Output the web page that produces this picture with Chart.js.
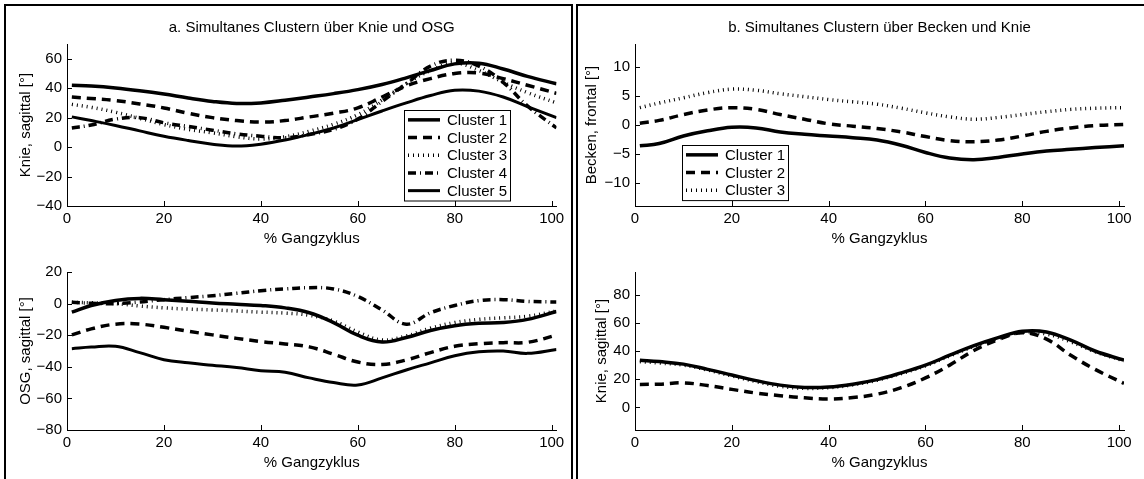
<!DOCTYPE html>
<html lang="de">
<head>
<meta charset="UTF-8">
<title>Simultanes Clustern</title>
<script src="https://cdn.jsdelivr.net/npm/chart.js"></script>
<style>
  body { margin: 0; background: #fff; width: 1144px; height: 479px; overflow: hidden; position: relative; }
  .frame { position: absolute; border: 2px solid #000; box-sizing: border-box; }
  canvas { position: absolute; }
</style>
</head>
<body>
<div class="frame" style="left:4px; top:4px; width:569px; height:500px;"></div>
<div class="frame" style="left:576px; top:4px; width:600px; height:500px;"></div>
<canvas id="kneeA" width="561" height="248" style="left:10px; top:0px;"></canvas>
<canvas id="osgA" width="561" height="214" style="left:10px; top:258px;"></canvas>
<canvas id="pelvisB" width="559" height="248" style="left:580px; top:0px;"></canvas>
<canvas id="kneeB" width="559" height="214" style="left:580px; top:258px;"></canvas>
<script>
// % Gangzyklus
const gz = [1, 5, 10, 15, 20, 25, 30, 35, 40, 45, 50, 55, 60, 65, 70, 75, 80, 85, 90, 95, 101];
const xTicks = [0, 20, 40, 60, 80, 100];

// a. Knie, sagittal
const kneeA1 = [42, 41.5, 40.2, 38.3, 36, 33.3, 31, 29.6, 30, 31.8, 34, 36.3, 39, 42.5, 47, 52, 56.5, 57, 53, 48, 43];
const kneeA2 = [34, 33, 31.6, 29.3, 26.6, 23, 20, 18, 17, 18, 20.5, 23, 26.6, 34, 41.5, 46.5, 50, 50.3, 46.5, 42, 36.5];
const kneeA3 = [29, 27, 23.7, 19.5, 15.3, 12, 9.7, 7, 5.5, 7, 10.8, 15.5, 22, 32, 43, 52, 57, 52, 44, 37, 30];
const kneeA4 = [13, 15, 19, 20, 16.5, 14, 11.5, 9, 7.4, 6.3, 8.6, 12, 19, 31, 43, 55, 59, 55, 44, 28, 13];
const kneeA5 = [20.5, 18, 14.7, 11, 7.4, 4.5, 2, 0.7, 2, 4.8, 8.6, 13, 18.7, 24.5, 30, 35, 38.6, 38, 34, 27.5, 20];
const kneeATicks = [-40, -20, 0, 20, 40, 60];

// a. OSG, sagittal
const osgA1 = [-5.4, -1.2, 2, 3.3, 2.5, 1.5, 0.4, -0.4, -1.2, -2.7, -5.8, -12, -20, -24.3, -21.5, -17, -14, -12.5, -12, -10, -5];
const osgA2 = [-19.8, -16, -13, -13, -15, -17.5, -19.8, -22, -24, -25.5, -27.4, -32, -37, -38.5, -35.7, -31, -27, -25.4, -24.7, -24.5, -20];
const osgA3 = [0.8, 0.5, 0, -1.5, -2.7, -3.5, -4, -4.7, -5.4, -6, -7.4, -11, -18, -23, -20.5, -15.5, -12, -10, -9, -8, -4.7];
const osgA4 = [0.8, 0.2, 0, 1, 2.5, 3.8, 5, 6.5, 8.2, 9.3, 10.1, 9.3, 4.5, -4, -13, -5.8, -1.2, 1.9, 2.5, 1.4, 1];
const osgA5 = [-28.5, -27.5, -27, -31, -35.5, -37.5, -39, -40.5, -42.5, -43.5, -47, -50, -51.5, -47, -42, -37.5, -33, -30.5, -30, -31.5, -29];
const osgATicks = [-80, -60, -40, -20, 0, 20];

// b. Becken, frontal
const pelvisB1 = [-3.6, -3.2, -1.9, -1, -0.4, -0.5, -1.2, -1.6, -1.9, -2.2, -2.6, -3.5, -4.75, -5.7, -6, -5.6, -5, -4.5, -4.2, -3.9, -3.6];
const pelvisB2 = [0.3, 0.8, 1.8, 2.6, 3, 2.7, 1.8, 1, 0.2, -0.2, -0.6, -1.2, -2, -2.7, -2.9, -2.6, -1.9, -1.1, -0.5, -0.1, 0.1];
const pelvisB3 = [3, 3.8, 4.7, 5.6, 6.2, 6, 5.4, 4.9, 4.4, 4, 3.6, 2.9, 2.1, 1.4, 1, 1.3, 1.8, 2.3, 2.7, 2.9, 3];
const pelvisBTicks = [-10, -5, 0, 5, 10];

// b. Knie, sagittal
const kneeB1 = [33.5, 32.5, 30.7, 27, 23, 19, 15.8, 14.2, 14.5, 16.5, 19.7, 24.5, 30, 37, 43.8, 49.5, 54, 53.5, 47.7, 40, 33.5];
const kneeB2 = [16.3, 16.5, 17.4, 15.5, 12.8, 10.2, 8.3, 6.8, 6, 7, 9.4, 14, 20.9, 30, 40.4, 48, 53, 48.4, 37, 27, 17];
const kneeB3 = [32.5, 31.5, 30, 26.5, 22.3, 18.3, 15, 13.5, 14, 16, 19.3, 24, 29.5, 36.5, 43.3, 49, 53.3, 52, 46.5, 39.5, 33];
const kneeBTicks = [0, 20, 40, 60, 80];

const lineStyles = [
    { width: 3.5, dash: [] },
    { width: 3.5, dash: [9, 6] },
    { width: 3.5, dash: [1, 4] },
    { width: 3.5, dash: [8, 4, 1, 4] },
    { width: 3, dash: [] }
];

Chart.defaults.font.family = '"Liberation Sans", Arial, sans-serif';
Chart.defaults.font.size = 15;
Chart.defaults.color = '#000';

// MATLAB style tick marks pointing into the axes
const innerTicks = {
    id: 'innerTicks',
    afterDraw(chart) {
        const { ctx, chartArea: ca, scales: { x, y } } = chart;
        ctx.save();
        ctx.strokeStyle = '#000';
        ctx.lineWidth = 1;
        ctx.setLineDash([]);
        ctx.beginPath();
        x.ticks.forEach(t => {
            const px = Math.round(x.getPixelForValue(t.value)) + 0.5;
            ctx.moveTo(px, ca.bottom);
            ctx.lineTo(px, ca.bottom - 5);
        });
        y.ticks.forEach(t => {
            const py = Math.round(y.getPixelForValue(t.value)) + 0.5;
            ctx.moveTo(ca.left, py);
            ctx.lineTo(ca.left + 5, py);
        });
        ctx.stroke();
        ctx.restore();
    }
};

// boxed legend inside the plot area
const boxLegend = {
    id: 'boxLegend',
    afterDatasetsDraw(chart, args, opts) {
        if (!opts.show) return;
        const ctx = chart.ctx, ca = chart.chartArea;
        const sets = chart.data.datasets;
        const rowH = 17.7, w = 106, h = sets.length * rowH + 2;
        const left = opts.anchor === 'right' ? ca.right - opts.dx - w : ca.left + opts.dx;
        const top = Math.round(ca.bottom - opts.dy - h);
        ctx.save();
        ctx.fillStyle = '#fff';
        ctx.fillRect(left, top, w, h);
        ctx.strokeStyle = '#000';
        ctx.lineWidth = 1;
        ctx.setLineDash([]);
        ctx.strokeRect(Math.round(left) + 0.5, top + 0.5, w, h);
        ctx.font = '15px "Liberation Sans", Arial, sans-serif';
        ctx.textBaseline = 'middle';
        ctx.fillStyle = '#000';
        sets.forEach((ds, i) => {
            const yy = top + 1 + rowH * (i + 0.5);
            ctx.beginPath();
            ctx.setLineDash(ds.borderDash);
            ctx.lineWidth = ds.borderWidth;
            ctx.moveTo(left + 4, yy);
            ctx.lineTo(left + 36, yy);
            ctx.stroke();
            ctx.setLineDash([]);
            ctx.fillText(ds.label, left + 43, yy + 1);
        });
        ctx.restore();
    }
};

function clusterSets(series) {
    return series.map((d, i) => ({
        label: 'Cluster ' + (i + 1),
        data: d.map((v, k) => ({ x: gz[k], y: v })),
        borderColor: '#000',
        borderWidth: lineStyles[i].width,
        borderDash: lineStyles[i].dash,
        borderCapStyle: 'butt',
        pointRadius: 0,
        tension: 0.4,
        fill: false
    }));
}

function makeChart(id, p) {
    new Chart(document.getElementById(id), {
        type: 'line',
        data: { datasets: clusterSets(p.series) },
        options: {
            responsive: false,
            animation: false,
            layout: { padding: { left: 0, top: p.padTop, right: p.padRight, bottom: 0 } },
            scales: {
                x: {
                    type: 'linear', min: 0, max: 101,
                    afterBuildTicks: s => { s.ticks = xTicks.map(v => ({ value: v })); },
                    afterFit: s => { s.height = 42; },
                    grid: { display: false, drawTicks: false },
                    border: { display: true, color: '#000', width: 1 },
                    ticks: { padding: 4, maxRotation: 0 },
                    title: { display: true, text: '% Gangzyklus', padding: { top: 0, bottom: 0 } }
                },
                y: {
                    min: p.yMin, max: p.yMax,
                    afterBuildTicks: s => { s.ticks = p.yTicks.map(v => ({ value: v })); },
                    afterFit: s => { s.width = p.yWidth; },
                    grid: { display: false, drawTicks: false },
                    border: { display: true, color: '#000', width: 1 },
                    ticks: { padding: 5, callback: v => String(v).replace('-', '\u2212') },
                    title: { display: true, text: p.yLabel, padding: { top: p.yTitlePad, bottom: 0 } }
                }
            },
            plugins: {
                legend: { display: false },
                tooltip: { enabled: false },
                title: {
                    display: !!p.title, text: p.title || '', fullSize: false,
                    font: { size: 15, weight: 'normal' }, color: '#000',
                    padding: { top: 19, bottom: 7 }
                },
                boxLegend: p.legend || { show: false }
            }
        },
        plugins: [innerTicks, boxLegend]
    });
}

makeChart('kneeA', {
    title: 'a. Simultanes Clustern über Knie und OSG',
    series: [kneeA1, kneeA2, kneeA3, kneeA4, kneeA5],
    yMin: -40, yMax: 70, yTicks: kneeATicks, yLabel: 'Knie, sagittal [°]',
    yWidth: 57, yTitlePad: 7, padTop: 0, padRight: 14.5,
    legend: { show: true, anchor: 'right', dx: 46.5, dy: 6 }
});
makeChart('osgA', {
    series: [osgA1, osgA2, osgA3, osgA4, osgA5],
    yMin: -80, yMax: 20, yTicks: osgATicks, yLabel: 'OSG, sagittal [°]',
    yWidth: 57, yTitlePad: 7, padTop: 10, padRight: 14.5
});
makeChart('pelvisB', {
    title: 'b. Simultanes Clustern über Becken und Knie',
    series: [pelvisB1, pelvisB2, pelvisB3],
    yMin: -14, yMax: 14, yTicks: pelvisBTicks, yLabel: 'Becken, frontal [°]',
    yWidth: 55, yTitlePad: 3, padTop: 0, padRight: 15,
    legend: { show: true, anchor: 'left', dx: 47, dy: 6 }
});
makeChart('kneeB', {
    series: [kneeB1, kneeB2, kneeB3],
    yMin: -16, yMax: 96, yTicks: kneeBTicks, yLabel: 'Knie, sagittal [°]',
    yWidth: 55, yTitlePad: 13, padTop: 10, padRight: 15
});
</script>
</body>
</html>
